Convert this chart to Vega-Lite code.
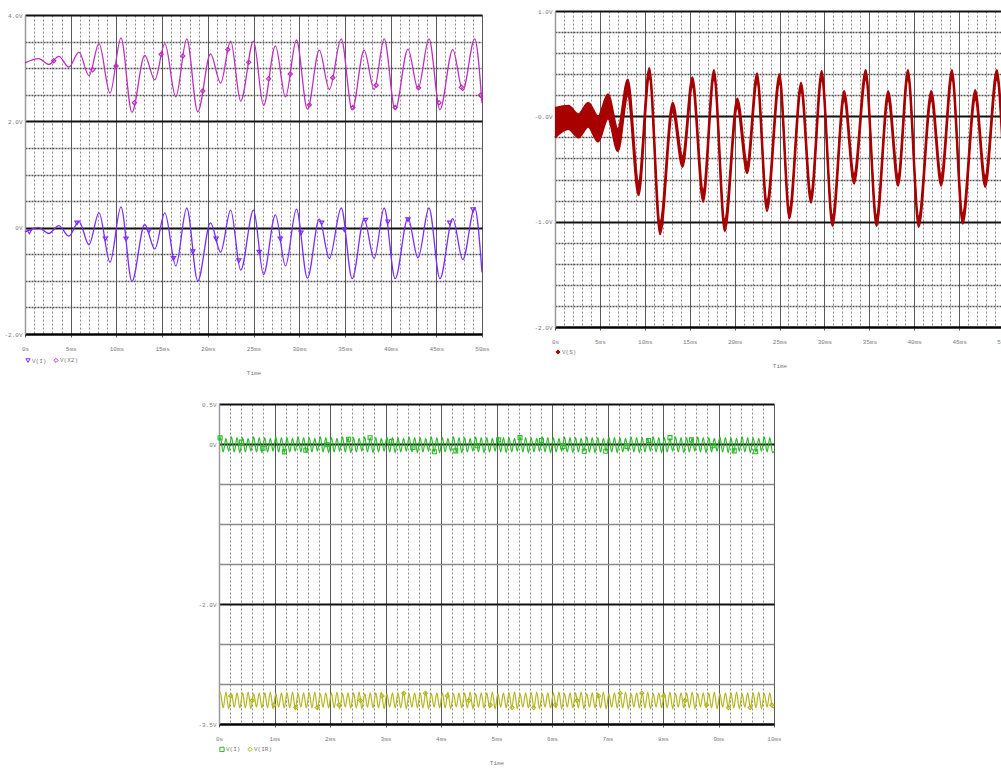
{
"$schema": "https://vega.github.io/schema/vega-lite/v6.json",
"background": "white",
"padding": {"left": 3, "top": 8, "right": 0, "bottom": 0},
"config": {
  "view": {"stroke": null},
  "font": "Liberation Mono",
  "axis": {"labelFont": "Liberation Mono", "labelFontSize": 6, "labelColor": "#7a7a7a", "labelOverlap": false, "labelFlush": false, "labelBound": false, "titleFont": "Liberation Mono", "titleFontSize": 6, "titleFontWeight": "normal", "titleColor": "#7a7a7a", "grid": true, "gridWidth": 1},
  "axisX": {"tickSize": 3, "tickWidth": 1, "labelPadding": 8, "domainColor": "#000", "domainWidth": 2, "titlePadding": 18},
  "axisY": {"ticks": false, "labelPadding": 3, "domainColor": "#9a9a9a", "domainWidth": 1.5},
  "legend": {"labelFont": "Liberation Mono", "labelFontSize": 6, "labelColor": "#7a7a7a", "symbolSize": 18, "symbolStrokeWidth": 1, "columnPadding": 4, "labelOffset": 1, "padding": 0, "rowPadding": 0}
},
"spacing": 26,
"resolve": {"scale": {"color": "independent", "shape": "independent"}},
"vconcat": [
{
"spacing": 43,
"resolve": {"scale": {"color": "independent", "shape": "independent"}},
"hconcat": [
{
"spacing": -5,
"resolve": {"scale": {"color": "independent", "shape": "independent"}},
"vconcat": [
{
 "width": 10, "height": 1,
 "data": {"values": [{"a": 1}]},
 "mark": {"type": "point", "opacity": 0},
 "encoding": {}
},
{
 "width": 457, "height": 319,
 "encoding": {
    "x": {"field": "t", "type": "quantitative", "scale": {"domain": [0, 50], "nice": false, "zero": false},
      "axis": {"values": [0,1,2,3,4,5,6,7,8,9,10,11,12,13,14,15,16,17,18,19,20,21,22,23,24,25,26,27,28,29,30,31,32,33,34,35,36,37,38,39,40,41,42,43,44,45,46,47,48,49,50],
        "labelExpr": "datum.value == 0 ? '0s' : (datum.value % 5 == 0 ? datum.value + 'ms' : '')",
        "gridColor": {"condition": {"test": "datum.value % 5 == 0", "value": "#5a5a5a"}, "value": "#8c8c8c"},
        "gridDash": {"condition": {"test": "datum.value % 5 == 0", "value": []}, "value": [2, 2]},
        "tickColor": {"condition": {"test": "datum.value % 5 == 0", "value": "#5a5a5a"}, "value": "transparent"},
        "title": "Time"}},
    "y": {"field": "v", "type": "quantitative", "scale": {"domain": [-2, 4], "nice": false, "zero": false},
      "axis": {"values": [-2,-1.5,-1,-0.5,0,0.5,1,1.5,2,2.5,3,3.5,4],
        "labelExpr": "datum.value == 4 ? '4.0V' : datum.value == 2 ? '2.0V' : datum.value == 0 ? '0V' : datum.value == -2 ? '-2.0V' : ''",
        "gridColor": {"condition": {"test": "datum.value % 2 == 0", "value": "#111111"}, "value": "#555555"},
        "gridWidth": {"condition": {"test": "datum.value % 2 == 0", "value": 2}, "value": 1.5},
        "gridDash": {"condition": {"test": "datum.value % 2 == 0", "value": []}, "value": [2, 1]},
        "title": null}},
    "color": {"field": "s", "type": "nominal", "scale": {"domain": ["V(I)", "V(X2)"], "range": ["#7A2BFF", "#C02EC0"]},
      "legend": {"orient": "none", "legendX": 0, "legendY": 342, "title": null, "direction": "horizontal"}}
 },
 "layer": [
  {
   "data": {"values": [
{"t":0,"V(I)":-0.08,"V(X2)":3.10},{"t":1.5,"V(I)":0.0,"V(X2)":3.18},{"t":2.6,"V(I)":-0.11,"V(X2)":3.07},{"t":3.7,"V(I)":0.04,"V(X2)":3.22},{"t":4.8,"V(I)":-0.16,"V(X2)":3.02},{"t":5.9,"V(I)":0.12,"V(X2)":3.30},{"t":7.0,"V(I)":-0.32,"V(X2)":2.86},{"t":8.1,"V(I)":0.28,"V(X2)":3.46},{"t":9.3,"V(I)":-0.65,"V(X2)":2.53},{"t":10.5,"V(I)":0.39,"V(X2)":3.57},{"t":11.7,"V(I)":-1.01,"V(X2)":2.17},{"t":13.1,"V(I)":0.06,"V(X2)":3.24},{"t":14.2,"V(I)":-0.40,"V(X2)":2.78},{"t":15.3,"V(I)":0.28,"V(X2)":3.46},{"t":16.5,"V(I)":-0.72,"V(X2)":2.46},{"t":17.7,"V(I)":0.37,"V(X2)":3.55},{"t":18.9,"V(I)":-1.00,"V(X2)":2.18},{"t":20.3,"V(I)":0.09,"V(X2)":3.27},{"t":21.4,"V(I)":-0.46,"V(X2)":2.72},{"t":22.5,"V(I)":0.33,"V(X2)":3.51},{"t":23.6,"V(I)":-0.80,"V(X2)":2.38},{"t":25.0,"V(I)":0.33,"V(X2)":3.51},{"t":26.1,"V(I)":-0.88,"V(X2)":2.30},{"t":27.4,"V(I)":0.24,"V(X2)":3.42},{"t":28.5,"V(I)":-0.72,"V(X2)":2.46},{"t":29.7,"V(I)":0.35,"V(X2)":3.53},{"t":30.9,"V(I)":-0.95,"V(X2)":2.23},{"t":32.2,"V(I)":0.16,"V(X2)":3.34},{"t":33.3,"V(I)":-0.58,"V(X2)":2.60},{"t":34.6,"V(I)":0.37,"V(X2)":3.55},{"t":35.8,"V(I)":-0.96,"V(X2)":2.22},{"t":37.1,"V(I)":0.16,"V(X2)":3.34},{"t":38.2,"V(I)":-0.58,"V(X2)":2.60},{"t":39.3,"V(I)":0.37,"V(X2)":3.55},{"t":40.5,"V(I)":-0.96,"V(X2)":2.22},{"t":41.9,"V(I)":0.18,"V(X2)":3.36},{"t":43.0,"V(I)":-0.57,"V(X2)":2.61},{"t":44.2,"V(I)":0.37,"V(X2)":3.55},{"t":45.4,"V(I)":-0.96,"V(X2)":2.22},{"t":46.8,"V(I)":0.17,"V(X2)":3.35},{"t":47.9,"V(I)":-0.60,"V(X2)":2.58},{"t":49.2,"V(I)":0.37,"V(X2)":3.55},{"t":50.0,"V(I)":-0.84,"V(X2)":2.34}
   ]},
   "transform": [{"fold": ["V(I)", "V(X2)"], "as": ["s", "v"]}],
   "mark": {"type": "line", "interpolate": "monotone", "strokeWidth": 1.3}
  },
  {
   "data": {"values": [
{"s":"V(I)","t":0.47,"v":-0.08},{"s":"V(I)","t":5.69,"v":0.09},{"s":"V(I)","t":8.8,"v":-0.21},{"s":"V(I)","t":11.06,"v":-0.21},{"s":"V(I)","t":13.54,"v":-0.06},{"s":"V(I)","t":16.24,"v":-0.58},{"s":"V(I)","t":18.36,"v":-0.45},{"s":"V(I)","t":20.91,"v":-0.21},{"s":"V(I)","t":23.39,"v":-0.62},{"s":"V(I)","t":25.62,"v":-0.46},{"s":"V(I)","t":27.93,"v":-0.21},{"s":"V(I)","t":30.19,"v":-0.1},{"s":"V(I)","t":32.46,"v":0.09},{"s":"V(I)","t":34.95,"v":-0.04},{"s":"V(I)","t":37.26,"v":0.14},{"s":"V(I)","t":39.71,"v":0.11},{"s":"V(I)","t":41.9,"v":0.15},{"s":"V(I)","t":46.46,"v":0.09},{"s":"V(I)","t":49.02,"v":0.34},
{"s":"V(X2)","t":3.14,"v":3.14},{"s":"V(X2)","t":7.41,"v":2.97},{"s":"V(X2)","t":9.96,"v":3.04},{"s":"V(X2)","t":11.97,"v":2.35},{"s":"V(X2)","t":14.89,"v":3.26},{"s":"V(X2)","t":17.26,"v":3.23},{"s":"V(X2)","t":19.45,"v":2.57},{"s":"V(X2)","t":22.19,"v":3.35},{"s":"V(X2)","t":24.47,"v":3.11},{"s":"V(X2)","t":26.65,"v":2.8},{"s":"V(X2)","t":29.02,"v":2.89},{"s":"V(X2)","t":31.11,"v":2.31},{"s":"V(X2)","t":33.67,"v":2.82},{"s":"V(X2)","t":35.86,"v":2.26},{"s":"V(X2)","t":38.42,"v":2.68},{"s":"V(X2)","t":40.5,"v":2.26},{"s":"V(X2)","t":43.06,"v":2.63},{"s":"V(X2)","t":45.29,"v":2.35},{"s":"V(X2)","t":47.74,"v":2.64},{"s":"V(X2)","t":49.83,"v":2.49}
   ]},
   "mark": {"type": "point", "filled": false, "size": 18, "strokeWidth": 1.2, "opacity": 1},
   "encoding": {
    "shape": {"field": "s", "type": "nominal", "scale": {"domain": ["V(I)", "V(X2)"], "range": ["triangle-down", "diamond"]},
      "legend": {"orient": "none", "legendX": 0, "legendY": 342, "title": null, "direction": "horizontal"}}
   }
  }
 ]
}
]
},
{
 "width": 449, "height": 316,
 "data": {"values": [
{"t":0,"hi":0.08,"lo":-0.2},{"t":1.5,"hi":0.1,"lo":-0.12},{"t":2.6,"hi":0.02,"lo":-0.2},{"t":3.7,"hi":0.13,"lo":-0.1},{"t":4.8,"hi":0.0,"lo":-0.24},{"t":5.9,"hi":0.21,"lo":-0.02},{"t":7.0,"hi":-0.12,"lo":-0.33},{"t":8.1,"hi":0.35,"lo":0.2},{"t":9.3,"hi":-0.62,"lo":-0.75},{"t":10.5,"hi":0.46,"lo":0.36},{"t":11.7,"hi":-1.0,"lo":-1.12},{"t":13.1,"hi":0.13,"lo":0.04},{"t":14.2,"hi":-0.38,"lo":-0.48},{"t":15.3,"hi":0.37,"lo":0.28},{"t":16.5,"hi":-0.7,"lo":-0.81},{"t":17.7,"hi":0.44,"lo":0.35},{"t":18.9,"hi":-0.98,"lo":-1.09},{"t":20.3,"hi":0.17,"lo":0.08},{"t":21.4,"hi":-0.44,"lo":-0.54},{"t":22.5,"hi":0.41,"lo":0.32},{"t":23.6,"hi":-0.8,"lo":-0.9},{"t":25.0,"hi":0.4,"lo":0.31},{"t":26.1,"hi":-0.87,"lo":-0.97},{"t":27.4,"hi":0.32,"lo":0.23},{"t":28.5,"hi":-0.72,"lo":-0.82},{"t":29.7,"hi":0.43,"lo":0.34},{"t":30.9,"hi":-0.94,"lo":-1.04},{"t":32.2,"hi":0.24,"lo":0.15},{"t":33.3,"hi":-0.55,"lo":-0.64},{"t":34.6,"hi":0.44,"lo":0.35},{"t":35.8,"hi":-0.94,"lo":-1.04},{"t":37.1,"hi":0.24,"lo":0.15},{"t":38.2,"hi":-0.56,"lo":-0.66},{"t":39.3,"hi":0.44,"lo":0.35},{"t":40.5,"hi":-0.95,"lo":-1.05},{"t":41.9,"hi":0.24,"lo":0.15},{"t":43.0,"hi":-0.56,"lo":-0.66},{"t":44.2,"hi":0.44,"lo":0.35},{"t":45.4,"hi":-0.92,"lo":-1.02},{"t":46.8,"hi":0.25,"lo":0.16},{"t":47.9,"hi":-0.57,"lo":-0.67},{"t":49.2,"hi":0.44,"lo":0.35},{"t":50.0,"hi":-0.5,"lo":-0.6}
 ]},
 "encoding": {
  "x": {"field": "t", "type": "quantitative", "scale": {"domain": [0, 50], "nice": false, "zero": false},
    "axis": {"values": [0,1,2,3,4,5,6,7,8,9,10,11,12,13,14,15,16,17,18,19,20,21,22,23,24,25,26,27,28,29,30,31,32,33,34,35,36,37,38,39,40,41,42,43,44,45,46,47,48,49,50],
      "labelExpr": "datum.value == 0 ? '0s' : (datum.value % 5 == 0 ? datum.value + 'ms' : '')",
      "gridColor": {"condition": {"test": "datum.value % 5 == 0", "value": "#5a5a5a"}, "value": "#8c8c8c"},
      "gridDash": {"condition": {"test": "datum.value % 5 == 0", "value": []}, "value": [2, 2]},
      "tickColor": {"condition": {"test": "datum.value % 5 == 0", "value": "#5a5a5a"}, "value": "transparent"},
      "title": "Time"}},
  "y": {"field": "hi", "type": "quantitative", "scale": {"domain": [-2, 1], "nice": false, "zero": false},
      "axis": {"values": [-2,-1.8,-1.6,-1.4,-1.2,-1,-0.8,-0.6,-0.4,-0.2,0,0.2,0.4,0.6,0.8,1],
        "labelExpr": "datum.value == 1 ? '1.0V' : datum.value == 0 ? '-0.0V' : datum.value == -1 ? '-1.0V' : datum.value == -2 ? '-2.0V' : ''",
        "gridColor": {"condition": {"test": "abs(datum.value - round(datum.value)) < 0.01", "value": "#111111"}, "value": "#555555"},
        "gridWidth": {"condition": {"test": "abs(datum.value - round(datum.value)) < 0.01", "value": 2}, "value": 1.5},
        "gridDash": {"condition": {"test": "abs(datum.value - round(datum.value)) < 0.01", "value": []}, "value": [2, 1]},
        "title": null}},
  "color": {"datum": "V(S)", "type": "nominal", "scale": {"range": ["#A80000"]},
    "legend": {"orient": "none", "legendX": 0, "legendY": 338, "title": null, "direction": "horizontal", "symbolType": "diamond"}}
 },
 "layer": [
  {"mark": {"type": "area", "interpolate": "monotone", "opacity": 1},
   "encoding": {"y2": {"field": "lo"}}},
  {"mark": {"type": "line", "interpolate": "monotone", "strokeWidth": 2}},
  {"mark": {"type": "line", "interpolate": "monotone", "strokeWidth": 2},
   "encoding": {"y": {"field": "lo", "type": "quantitative", "scale": {"domain": [-2, 1], "nice": false, "zero": false},
      "axis": {"values": [-2,-1.8,-1.6,-1.4,-1.2,-1,-0.8,-0.6,-0.4,-0.2,0,0.2,0.4,0.6,0.8,1],
        "labelExpr": "datum.value == 1 ? '1.0V' : datum.value == 0 ? '-0.0V' : datum.value == -1 ? '-1.0V' : datum.value == -2 ? '-2.0V' : ''",
        "gridColor": {"condition": {"test": "abs(datum.value - round(datum.value)) < 0.01", "value": "#111111"}, "value": "#555555"},
        "gridWidth": {"condition": {"test": "abs(datum.value - round(datum.value)) < 0.01", "value": 2}, "value": 1.5},
        "gridDash": {"condition": {"test": "abs(datum.value - round(datum.value)) < 0.01", "value": []}, "value": [2, 1]},
        "title": null}}}}
 ]
}
]
},
{
"spacing": 0,
"resolve": {"scale": {"color": "independent", "shape": "independent"}},
"hconcat": [
{
 "width": 172, "height": 10,
 "data": {"values": [{"a": 1}]},
 "mark": {"type": "point", "opacity": 0},
 "encoding": {}
},
{
 "width": 555, "height": 320,
 "encoding": {
    "x": {"field": "t", "type": "quantitative", "scale": {"domain": [0, 10], "nice": false, "zero": false},
      "axis": {"values": [0,0.2,0.4,0.6,0.8,1,1.2,1.4,1.6,1.8,2,2.2,2.4,2.6,2.8,3,3.2,3.4,3.6,3.8,4,4.2,4.4,4.6,4.8,5,5.2,5.4,5.6,5.8,6,6.2,6.4,6.6,6.8,7,7.2,7.4,7.6,7.8,8,8.2,8.4,8.6,8.8,9,9.2,9.4,9.6,9.8,10],
        "labelExpr": "abs(datum.value - round(datum.value)) < 0.01 ? (datum.value == 0 ? '0s' : round(datum.value) + 'ms') : ''",
        "gridColor": {"condition": {"test": "abs(datum.value - round(datum.value)) < 0.01", "value": "#5a5a5a"}, "value": "#8c8c8c"},
        "gridDash": {"condition": {"test": "abs(datum.value - round(datum.value)) < 0.01", "value": []}, "value": [2, 2]},
        "tickColor": {"condition": {"test": "abs(datum.value - round(datum.value)) < 0.01", "value": "#5a5a5a"}, "value": "transparent"},
        "title": "Time"}},
    "y": {"field": "v", "type": "quantitative", "scale": {"domain": [-3.5, 0.5], "nice": false, "zero": false},
      "axis": {"values": [-3.5,-3,-2.5,-2,-1.5,-1,-0.5,0,0.5],
        "labelExpr": "datum.value == 0.5 ? '0.5V' : datum.value == 0 ? '0V' : datum.value == -2 ? '-2.0V' : datum.value == -3.5 ? '-3.5V' : ''",
        "gridColor": {"condition": {"test": "datum.value == 0.5 || datum.value == 0 || datum.value == -2 || datum.value == -3.5", "value": "#111111"}, "value": "#8a8a8a"},
        "gridWidth": {"condition": {"test": "datum.value == 0.5 || datum.value == 0 || datum.value == -2 || datum.value == -3.5", "value": 2}, "value": 1.5},
        "title": null}},
    "color": {"field": "s", "type": "nominal", "scale": {"domain": ["V(I)", "V(IR)"], "range": ["#2DB82D", "#B5B51F"]},
      "legend": {"orient": "none", "legendX": 0, "legendY": 342, "title": null, "direction": "horizontal"}}
 },
 "layer": [
  {
   "data": {"values": [
{"t":0,"V(I)":0.06,"V(IR)":-3.12},
{"t":0.025,"V(I)":0.08,"V(IR)":-3.11},{"t":0.075,"V(I)":-0.1,"V(IR)":-3.3},{"t":0.125,"V(I)":0.07,"V(IR)":-3.1},{"t":0.175,"V(I)":-0.09,"V(IR)":-3.31},{"t":0.225,"V(I)":0.09,"V(IR)":-3.12},{"t":0.275,"V(I)":-0.1,"V(IR)":-3.29},{"t":0.325,"V(I)":0.08,"V(IR)":-3.11},{"t":0.375,"V(I)":-0.11,"V(IR)":-3.3},
{"t":0.425,"V(I)":0.08,"V(IR)":-3.11},{"t":0.475,"V(I)":-0.1,"V(IR)":-3.3},{"t":0.525,"V(I)":0.07,"V(IR)":-3.1},{"t":0.575,"V(I)":-0.09,"V(IR)":-3.31},{"t":0.625,"V(I)":0.09,"V(IR)":-3.12},{"t":0.675,"V(I)":-0.1,"V(IR)":-3.29},{"t":0.725,"V(I)":0.08,"V(IR)":-3.11},{"t":0.775,"V(I)":-0.11,"V(IR)":-3.3},
{"t":0.825,"V(I)":0.08,"V(IR)":-3.11},{"t":0.875,"V(I)":-0.1,"V(IR)":-3.3},{"t":0.925,"V(I)":0.07,"V(IR)":-3.1},{"t":0.975,"V(I)":-0.09,"V(IR)":-3.31},{"t":1.025,"V(I)":0.09,"V(IR)":-3.12},{"t":1.075,"V(I)":-0.1,"V(IR)":-3.29},{"t":1.125,"V(I)":0.08,"V(IR)":-3.11},{"t":1.175,"V(I)":-0.11,"V(IR)":-3.3},
{"t":1.225,"V(I)":0.08,"V(IR)":-3.11},{"t":1.275,"V(I)":-0.1,"V(IR)":-3.3},{"t":1.325,"V(I)":0.07,"V(IR)":-3.1},{"t":1.375,"V(I)":-0.09,"V(IR)":-3.31},{"t":1.425,"V(I)":0.09,"V(IR)":-3.12},{"t":1.475,"V(I)":-0.1,"V(IR)":-3.29},{"t":1.525,"V(I)":0.08,"V(IR)":-3.11},{"t":1.575,"V(I)":-0.11,"V(IR)":-3.3},
{"t":1.625,"V(I)":0.08,"V(IR)":-3.11},{"t":1.675,"V(I)":-0.1,"V(IR)":-3.3},{"t":1.725,"V(I)":0.07,"V(IR)":-3.1},{"t":1.775,"V(I)":-0.09,"V(IR)":-3.31},{"t":1.825,"V(I)":0.09,"V(IR)":-3.12},{"t":1.875,"V(I)":-0.1,"V(IR)":-3.29},{"t":1.925,"V(I)":0.08,"V(IR)":-3.11},{"t":1.975,"V(I)":-0.11,"V(IR)":-3.3},
{"t":2.025,"V(I)":0.08,"V(IR)":-3.11},{"t":2.075,"V(I)":-0.1,"V(IR)":-3.3},{"t":2.125,"V(I)":0.07,"V(IR)":-3.1},{"t":2.175,"V(I)":-0.09,"V(IR)":-3.31},{"t":2.225,"V(I)":0.09,"V(IR)":-3.12},{"t":2.275,"V(I)":-0.1,"V(IR)":-3.29},{"t":2.325,"V(I)":0.08,"V(IR)":-3.11},{"t":2.375,"V(I)":-0.11,"V(IR)":-3.3},
{"t":2.425,"V(I)":0.08,"V(IR)":-3.11},{"t":2.475,"V(I)":-0.1,"V(IR)":-3.3},{"t":2.525,"V(I)":0.07,"V(IR)":-3.1},{"t":2.575,"V(I)":-0.09,"V(IR)":-3.31},{"t":2.625,"V(I)":0.09,"V(IR)":-3.12},{"t":2.675,"V(I)":-0.1,"V(IR)":-3.29},{"t":2.725,"V(I)":0.08,"V(IR)":-3.11},{"t":2.775,"V(I)":-0.11,"V(IR)":-3.3},
{"t":2.825,"V(I)":0.08,"V(IR)":-3.11},{"t":2.875,"V(I)":-0.1,"V(IR)":-3.3},{"t":2.925,"V(I)":0.07,"V(IR)":-3.1},{"t":2.975,"V(I)":-0.09,"V(IR)":-3.31},{"t":3.025,"V(I)":0.09,"V(IR)":-3.12},{"t":3.075,"V(I)":-0.1,"V(IR)":-3.29},{"t":3.125,"V(I)":0.08,"V(IR)":-3.11},{"t":3.175,"V(I)":-0.11,"V(IR)":-3.3},
{"t":3.225,"V(I)":0.08,"V(IR)":-3.11},{"t":3.275,"V(I)":-0.1,"V(IR)":-3.3},{"t":3.325,"V(I)":0.07,"V(IR)":-3.1},{"t":3.375,"V(I)":-0.09,"V(IR)":-3.31},{"t":3.425,"V(I)":0.09,"V(IR)":-3.12},{"t":3.475,"V(I)":-0.1,"V(IR)":-3.29},{"t":3.525,"V(I)":0.08,"V(IR)":-3.11},{"t":3.575,"V(I)":-0.11,"V(IR)":-3.3},
{"t":3.625,"V(I)":0.08,"V(IR)":-3.11},{"t":3.675,"V(I)":-0.1,"V(IR)":-3.3},{"t":3.725,"V(I)":0.07,"V(IR)":-3.1},{"t":3.775,"V(I)":-0.09,"V(IR)":-3.31},{"t":3.825,"V(I)":0.09,"V(IR)":-3.12},{"t":3.875,"V(I)":-0.1,"V(IR)":-3.29},{"t":3.925,"V(I)":0.08,"V(IR)":-3.11},{"t":3.975,"V(I)":-0.11,"V(IR)":-3.3},
{"t":4.025,"V(I)":0.08,"V(IR)":-3.11},{"t":4.075,"V(I)":-0.1,"V(IR)":-3.3},{"t":4.125,"V(I)":0.07,"V(IR)":-3.1},{"t":4.175,"V(I)":-0.09,"V(IR)":-3.31},{"t":4.225,"V(I)":0.09,"V(IR)":-3.12},{"t":4.275,"V(I)":-0.1,"V(IR)":-3.29},{"t":4.325,"V(I)":0.08,"V(IR)":-3.11},{"t":4.375,"V(I)":-0.11,"V(IR)":-3.3},
{"t":4.425,"V(I)":0.08,"V(IR)":-3.11},{"t":4.475,"V(I)":-0.1,"V(IR)":-3.3},{"t":4.525,"V(I)":0.07,"V(IR)":-3.1},{"t":4.575,"V(I)":-0.09,"V(IR)":-3.31},{"t":4.625,"V(I)":0.09,"V(IR)":-3.12},{"t":4.675,"V(I)":-0.1,"V(IR)":-3.29},{"t":4.725,"V(I)":0.08,"V(IR)":-3.11},{"t":4.775,"V(I)":-0.11,"V(IR)":-3.3},
{"t":4.825,"V(I)":0.08,"V(IR)":-3.11},{"t":4.875,"V(I)":-0.1,"V(IR)":-3.3},{"t":4.925,"V(I)":0.07,"V(IR)":-3.1},{"t":4.975,"V(I)":-0.09,"V(IR)":-3.31},{"t":5.025,"V(I)":0.09,"V(IR)":-3.12},{"t":5.075,"V(I)":-0.1,"V(IR)":-3.29},{"t":5.125,"V(I)":0.08,"V(IR)":-3.11},{"t":5.175,"V(I)":-0.11,"V(IR)":-3.3},
{"t":5.225,"V(I)":0.08,"V(IR)":-3.11},{"t":5.275,"V(I)":-0.1,"V(IR)":-3.3},{"t":5.325,"V(I)":0.07,"V(IR)":-3.1},{"t":5.375,"V(I)":-0.09,"V(IR)":-3.31},{"t":5.425,"V(I)":0.09,"V(IR)":-3.12},{"t":5.475,"V(I)":-0.1,"V(IR)":-3.29},{"t":5.525,"V(I)":0.08,"V(IR)":-3.11},{"t":5.575,"V(I)":-0.11,"V(IR)":-3.3},
{"t":5.625,"V(I)":0.08,"V(IR)":-3.11},{"t":5.675,"V(I)":-0.1,"V(IR)":-3.3},{"t":5.725,"V(I)":0.07,"V(IR)":-3.1},{"t":5.775,"V(I)":-0.09,"V(IR)":-3.31},{"t":5.825,"V(I)":0.09,"V(IR)":-3.12},{"t":5.875,"V(I)":-0.1,"V(IR)":-3.29},{"t":5.925,"V(I)":0.08,"V(IR)":-3.11},{"t":5.975,"V(I)":-0.11,"V(IR)":-3.3},
{"t":6.025,"V(I)":0.08,"V(IR)":-3.11},{"t":6.075,"V(I)":-0.1,"V(IR)":-3.3},{"t":6.125,"V(I)":0.07,"V(IR)":-3.1},{"t":6.175,"V(I)":-0.09,"V(IR)":-3.31},{"t":6.225,"V(I)":0.09,"V(IR)":-3.12},{"t":6.275,"V(I)":-0.1,"V(IR)":-3.29},{"t":6.325,"V(I)":0.08,"V(IR)":-3.11},{"t":6.375,"V(I)":-0.11,"V(IR)":-3.3},
{"t":6.425,"V(I)":0.08,"V(IR)":-3.11},{"t":6.475,"V(I)":-0.1,"V(IR)":-3.3},{"t":6.525,"V(I)":0.07,"V(IR)":-3.1},{"t":6.575,"V(I)":-0.09,"V(IR)":-3.31},{"t":6.625,"V(I)":0.09,"V(IR)":-3.12},{"t":6.675,"V(I)":-0.1,"V(IR)":-3.29},{"t":6.725,"V(I)":0.08,"V(IR)":-3.11},{"t":6.775,"V(I)":-0.11,"V(IR)":-3.3},
{"t":6.825,"V(I)":0.08,"V(IR)":-3.11},{"t":6.875,"V(I)":-0.1,"V(IR)":-3.3},{"t":6.925,"V(I)":0.07,"V(IR)":-3.1},{"t":6.975,"V(I)":-0.09,"V(IR)":-3.31},{"t":7.025,"V(I)":0.09,"V(IR)":-3.12},{"t":7.075,"V(I)":-0.1,"V(IR)":-3.29},{"t":7.125,"V(I)":0.08,"V(IR)":-3.11},{"t":7.175,"V(I)":-0.11,"V(IR)":-3.3},
{"t":7.225,"V(I)":0.08,"V(IR)":-3.11},{"t":7.275,"V(I)":-0.1,"V(IR)":-3.3},{"t":7.325,"V(I)":0.07,"V(IR)":-3.1},{"t":7.375,"V(I)":-0.09,"V(IR)":-3.31},{"t":7.425,"V(I)":0.09,"V(IR)":-3.12},{"t":7.475,"V(I)":-0.1,"V(IR)":-3.29},{"t":7.525,"V(I)":0.08,"V(IR)":-3.11},{"t":7.575,"V(I)":-0.11,"V(IR)":-3.3},
{"t":7.625,"V(I)":0.08,"V(IR)":-3.11},{"t":7.675,"V(I)":-0.1,"V(IR)":-3.3},{"t":7.725,"V(I)":0.07,"V(IR)":-3.1},{"t":7.775,"V(I)":-0.09,"V(IR)":-3.31},{"t":7.825,"V(I)":0.09,"V(IR)":-3.12},{"t":7.875,"V(I)":-0.1,"V(IR)":-3.29},{"t":7.925,"V(I)":0.08,"V(IR)":-3.11},{"t":7.975,"V(I)":-0.11,"V(IR)":-3.3},
{"t":8.025,"V(I)":0.08,"V(IR)":-3.11},{"t":8.075,"V(I)":-0.1,"V(IR)":-3.3},{"t":8.125,"V(I)":0.07,"V(IR)":-3.1},{"t":8.175,"V(I)":-0.09,"V(IR)":-3.31},{"t":8.225,"V(I)":0.09,"V(IR)":-3.12},{"t":8.275,"V(I)":-0.1,"V(IR)":-3.29},{"t":8.325,"V(I)":0.08,"V(IR)":-3.11},{"t":8.375,"V(I)":-0.11,"V(IR)":-3.3},
{"t":8.425,"V(I)":0.08,"V(IR)":-3.11},{"t":8.475,"V(I)":-0.1,"V(IR)":-3.3},{"t":8.525,"V(I)":0.07,"V(IR)":-3.1},{"t":8.575,"V(I)":-0.09,"V(IR)":-3.31},{"t":8.625,"V(I)":0.09,"V(IR)":-3.12},{"t":8.675,"V(I)":-0.1,"V(IR)":-3.29},{"t":8.725,"V(I)":0.08,"V(IR)":-3.11},{"t":8.775,"V(I)":-0.11,"V(IR)":-3.3},
{"t":8.825,"V(I)":0.08,"V(IR)":-3.11},{"t":8.875,"V(I)":-0.1,"V(IR)":-3.3},{"t":8.925,"V(I)":0.07,"V(IR)":-3.1},{"t":8.975,"V(I)":-0.09,"V(IR)":-3.31},{"t":9.025,"V(I)":0.09,"V(IR)":-3.12},{"t":9.075,"V(I)":-0.1,"V(IR)":-3.29},{"t":9.125,"V(I)":0.08,"V(IR)":-3.11},{"t":9.175,"V(I)":-0.11,"V(IR)":-3.3},
{"t":9.225,"V(I)":0.08,"V(IR)":-3.11},{"t":9.275,"V(I)":-0.1,"V(IR)":-3.3},{"t":9.325,"V(I)":0.07,"V(IR)":-3.1},{"t":9.375,"V(I)":-0.09,"V(IR)":-3.31},{"t":9.425,"V(I)":0.09,"V(IR)":-3.12},{"t":9.475,"V(I)":-0.1,"V(IR)":-3.29},{"t":9.525,"V(I)":0.08,"V(IR)":-3.11},{"t":9.575,"V(I)":-0.11,"V(IR)":-3.3},
{"t":9.625,"V(I)":0.08,"V(IR)":-3.11},{"t":9.675,"V(I)":-0.1,"V(IR)":-3.3},{"t":9.725,"V(I)":0.07,"V(IR)":-3.1},{"t":9.775,"V(I)":-0.09,"V(IR)":-3.31},{"t":9.825,"V(I)":0.09,"V(IR)":-3.12},{"t":9.875,"V(I)":-0.1,"V(IR)":-3.29},{"t":9.925,"V(I)":0.08,"V(IR)":-3.11},{"t":9.975,"V(I)":-0.11,"V(IR)":-3.3},
{"t":10,"V(I)":-0.09,"V(IR)":-3.29}
   ]},
   "transform": [{"fold": ["V(I)", "V(IR)"], "as": ["s", "v"]}],
   "mark": {"type": "line", "interpolate": "monotone", "strokeWidth": 1.2}
  },
  {
   "data": {"values": [
{"s":"V(I)","t":0.02,"v":0.076},{"s":"V(I)","t":0.406,"v":0.023},{"s":"V(I)","t":0.792,"v":-0.053},{"s":"V(I)","t":1.178,"v":-0.098},{"s":"V(I)","t":1.564,"v":-0.079},{"s":"V(I)","t":1.95,"v":-0.01},{"s":"V(I)","t":2.336,"v":0.059},{"s":"V(I)","t":2.722,"v":0.078},{"s":"V(I)","t":3.108,"v":0.033},{"s":"V(I)","t":3.494,"v":-0.043},{"s":"V(I)","t":3.88,"v":-0.096},{"s":"V(I)","t":4.266,"v":-0.086},{"s":"V(I)","t":4.652,"v":-0.021},{"s":"V(I)","t":5.038,"v":0.052},{"s":"V(I)","t":5.424,"v":0.08},{"s":"V(I)","t":5.81,"v":0.043},{"s":"V(I)","t":6.196,"v":-0.032},{"s":"V(I)","t":6.582,"v":-0.091},{"s":"V(I)","t":6.968,"v":-0.091},{"s":"V(I)","t":7.354,"v":-0.032},{"s":"V(I)","t":7.74,"v":0.043},{"s":"V(I)","t":8.126,"v":0.08},{"s":"V(I)","t":8.512,"v":0.052},{"s":"V(I)","t":8.898,"v":-0.021},{"s":"V(I)","t":9.284,"v":-0.086},{"s":"V(I)","t":9.67,"v":-0.096},
{"s":"V(IR)","t":0.21,"v":-3.149},{"s":"V(IR)","t":0.6,"v":-3.205},{"s":"V(IR)","t":0.99,"v":-3.261},{"s":"V(IR)","t":1.38,"v":-3.295},{"s":"V(IR)","t":1.77,"v":-3.295},{"s":"V(IR)","t":2.16,"v":-3.261},{"s":"V(IR)","t":2.55,"v":-3.205},{"s":"V(IR)","t":2.94,"v":-3.149},{"s":"V(IR)","t":3.33,"v":-3.115},{"s":"V(IR)","t":3.72,"v":-3.115},{"s":"V(IR)","t":4.11,"v":-3.149},{"s":"V(IR)","t":4.5,"v":-3.205},{"s":"V(IR)","t":4.89,"v":-3.261},{"s":"V(IR)","t":5.28,"v":-3.295},{"s":"V(IR)","t":5.67,"v":-3.295},{"s":"V(IR)","t":6.06,"v":-3.261},{"s":"V(IR)","t":6.45,"v":-3.205},{"s":"V(IR)","t":6.84,"v":-3.149},{"s":"V(IR)","t":7.23,"v":-3.115},{"s":"V(IR)","t":7.62,"v":-3.115},{"s":"V(IR)","t":8.01,"v":-3.149},{"s":"V(IR)","t":8.4,"v":-3.205},{"s":"V(IR)","t":8.79,"v":-3.261},{"s":"V(IR)","t":9.18,"v":-3.295},{"s":"V(IR)","t":9.57,"v":-3.295},{"s":"V(IR)","t":9.96,"v":-3.261}
   ]},
   "mark": {"type": "point", "filled": false, "size": 16, "strokeWidth": 1.1, "opacity": 1},
   "encoding": {
    "shape": {"field": "s", "type": "nominal", "scale": {"domain": ["V(I)", "V(IR)"], "range": ["square", "diamond"]},
      "legend": {"orient": "none", "legendX": 0, "legendY": 342, "title": null, "direction": "horizontal"}}
   }
  }
 ]
}
]
}
]
}
